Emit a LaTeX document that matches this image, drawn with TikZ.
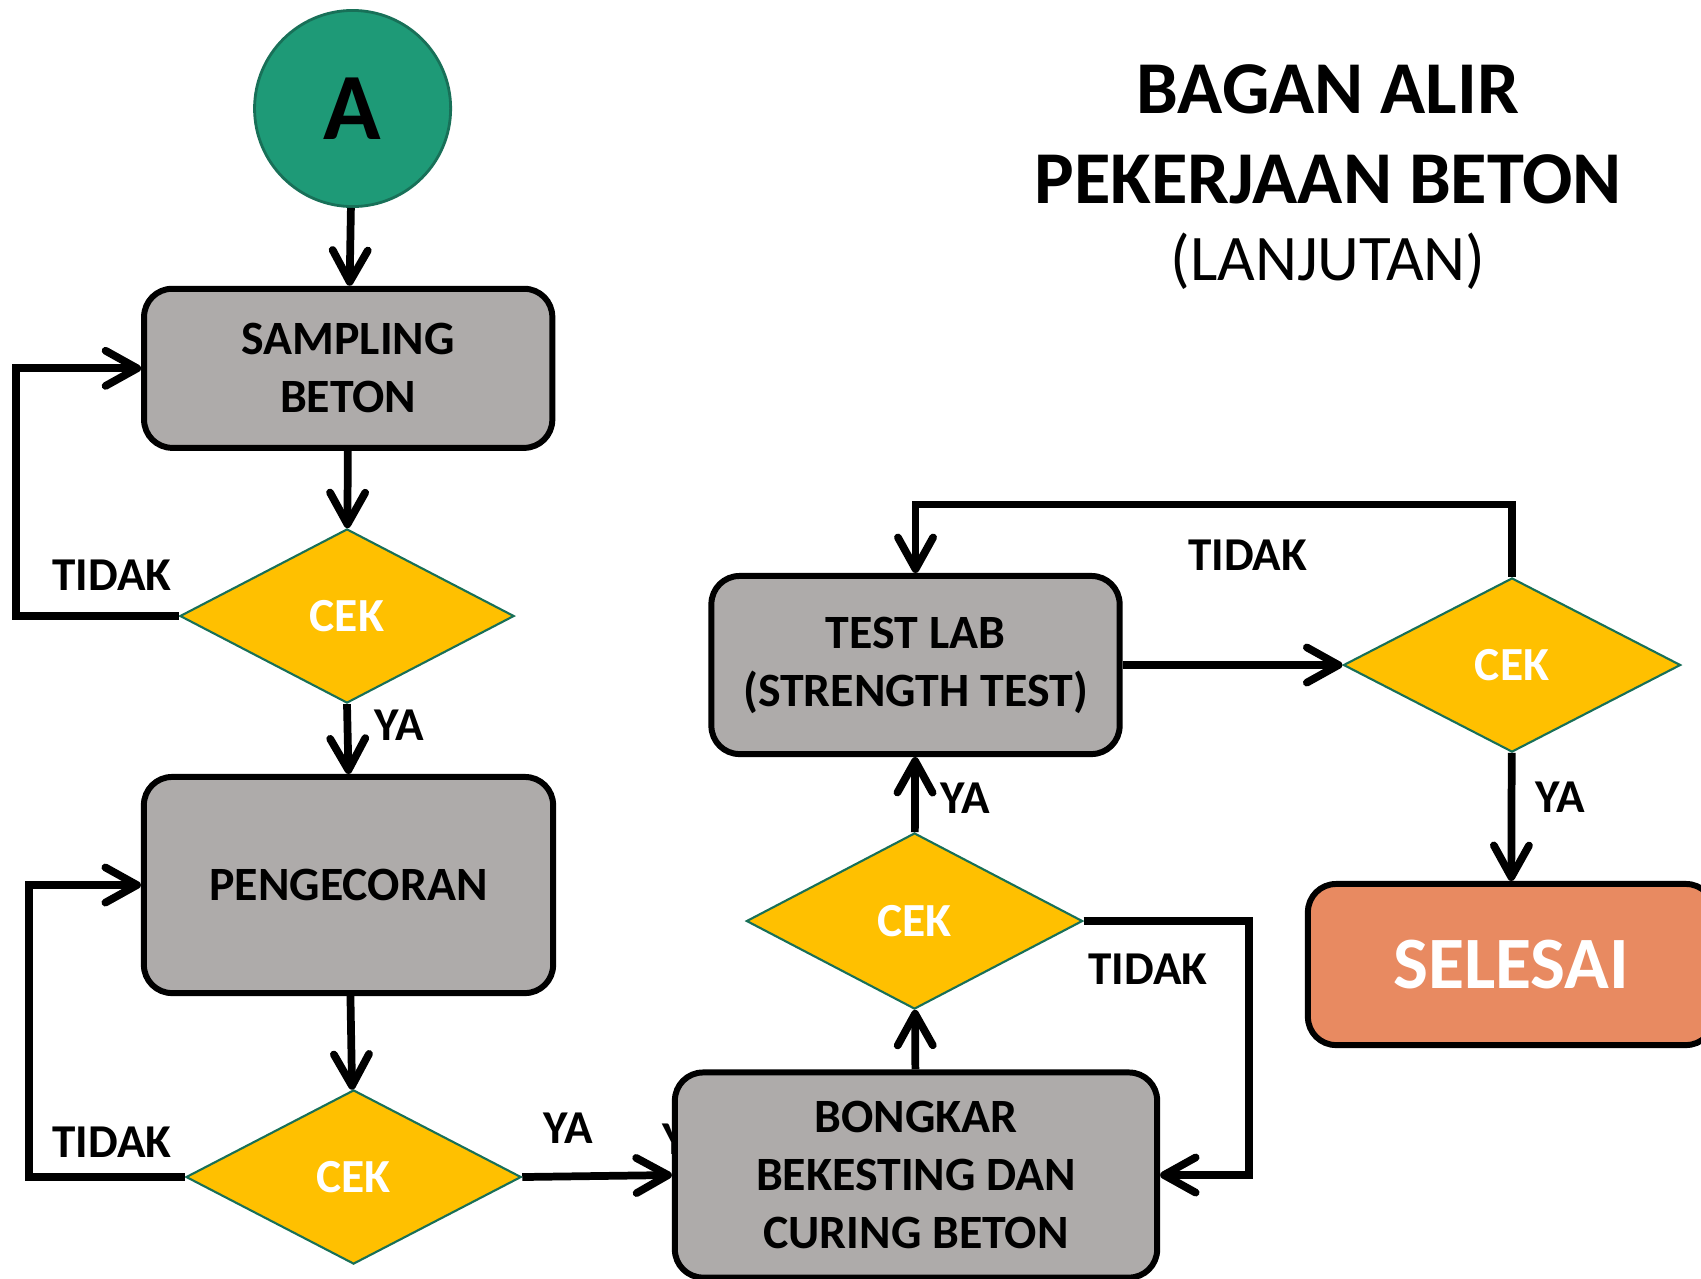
\documentclass[tikz,border=0pt]{standalone}
\usepackage{fontspec}
\setmainfont{Carlito}
\usepackage{xcolor}
\definecolor{flowgray}{RGB}{174,171,170}
\definecolor{flowteal}{RGB}{30,154,119}
\definecolor{flowdark}{RGB}{24,112,88}
\definecolor{flowyellow}{RGB}{255,192,0}
\definecolor{floworange}{RGB}{232,138,97}
\usetikzlibrary{arrows.meta, positioning, shapes.geometric}

\tikzset{
  procbox/.style={draw=black, line width=1.7pt, fill=flowgray, rounded corners=8pt, align=center, inner sep=0pt, font=\fontsize{13.6}{16.5}\selectfont\bfseries},
  cekbox/.style={diamond, draw=flowdark, line width=0.6pt, fill=flowyellow, inner sep=0pt, text=white, font=\fontsize{13.5}{16}\selectfont\bfseries},
  flowarrow/.style={-{Straight Barb[length=9pt,width=10pt,round]}, line width=2.2pt},
  flowlabel/.style={font=\fontsize{13.4}{16}\selectfont\bfseries},
  titletext/.style={font=\fontsize{21.2}{25}\selectfont\bfseries}
}

\begin{document}
\begin{tikzpicture}[x=0.01cm, y=-0.01cm]
  \useasboundingbox (0,0) rectangle (1701,1278);

  % Title
  \node[titletext] (title1) at (1328,89) {BAGAN ALIR};
  \node[titletext] (title2) at (1328,179) {PEKERJAAN BETON};
  \node[font=\fontsize{18.5}{22}\selectfont] (title3) at (1328,261) {(LANJUTAN)};

  % Start connector A
  \node[circle, minimum size=1.96cm, fill=flowteal, draw=flowdark, line width=0.8pt, inner sep=0pt, font=\fontsize{27}{30}\selectfont\bfseries] (start) at (352.6,108.5) {A};

  % Left column: sampling and pengecoran
  \node[procbox, minimum width=4.08cm, minimum height=1.59cm] (sampling) at (348.2,368.3) {SAMPLING\\BETON};
  \node[cekbox, minimum width=3.34cm, minimum height=1.74cm] (cek1) at (347,616) {CEK};
  \node[procbox, minimum width=4.09cm, minimum height=2.16cm] (pengecoran) at (348.5,885) {PENGECORAN};
  \node[cekbox, minimum width=3.35cm, minimum height=1.74cm] (cek2) at (353.6,1177) {CEK};

  \draw[flowarrow] (start) -- (sampling);
  \draw[flowarrow] (sampling) -- (cek1);
  \draw[flowarrow] (cek1.west) -- ++(-162.6,0) |- (sampling.west);
  \node[flowlabel] (tidak1) at (112,575) {TIDAK};
  \draw[flowarrow] (cek1.south) -- (pengecoran.north);
  \node[flowlabel] (ya1) at (399,725) {YA};
  \draw[flowarrow] (pengecoran) -- (cek2);
  \draw[flowarrow] (cek2.west) -- ++(-155.6,0) |- (pengecoran.west);
  \node[flowlabel] (tidak2) at (112,1142) {TIDAK};

  % Middle column: bongkar and test lab
  \node[flowlabel] (ya2) at (568,1128) {YA};
  \node[flowlabel] (ya2b) at (687,1139) {YA};
  \node[procbox, minimum width=4.82cm, minimum height=2.05cm] (bongkar) at (916,1175) {BONGKAR\\BEKESTING DAN\\CURING BETON};
  \draw[flowarrow] (cek2.east) -- (bongkar.west);

  \node[cekbox, minimum width=3.36cm, minimum height=1.76cm] (cek3) at (914.5,921) {CEK};
  \node[procbox, minimum width=4.08cm, minimum height=1.78cm] (testlab) at (915.5,665) {TEST LAB\\(STRENGTH TEST)};

  \draw[flowarrow] (bongkar) -- (cek3);
  \draw[flowarrow] (cek3.east) -- ++(165,0) |- (bongkar.east);
  \node[flowlabel] (tidak3) at (1148,969) {TIDAK};
  \draw[flowarrow] (cek3) -- (testlab);
  \node[flowlabel] (ya3) at (965,798) {YA};

  % Right column: final check
  \node[cekbox, minimum width=3.37cm, minimum height=1.74cm] (cek4) at (1512,665) {CEK};
  \node[procbox, fill=floworange, text=white, minimum width=4.06cm, minimum height=1.61cm, font=\fontsize{21}{24}\selectfont\bfseries] (selesai) at (1511,964.5) {SELESAI};

  \draw[flowarrow] (testlab.east) -- (cek4.west);
  \draw[flowarrow] (cek4.north) -- ++(0,-72.5) -| (testlab.north);
  \node[flowlabel] (tidak4) at (1247.5,555) {TIDAK};
  \draw[flowarrow] (cek4) -- (selesai);
  \node[flowlabel] (ya4) at (1560,797) {YA};
\end{tikzpicture}
\end{document}
